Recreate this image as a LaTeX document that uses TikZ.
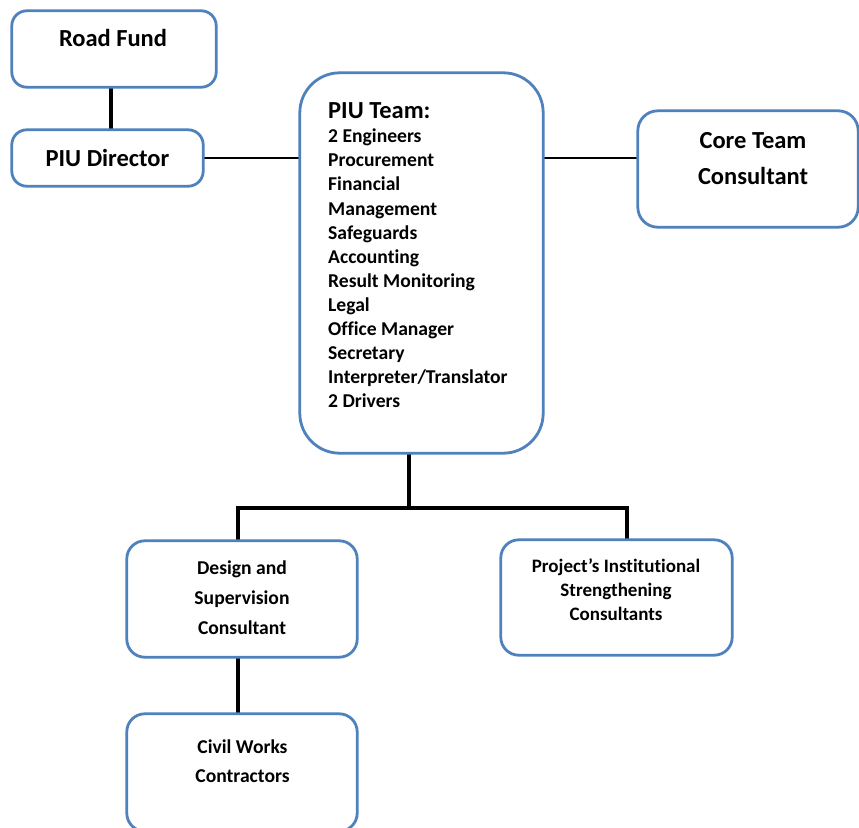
\documentclass[tikz,border=0pt]{standalone}
\usepackage{fontspec}
\setmainfont{Carlito}[Ligatures={NoCommon}]
\definecolor{boxblue}{RGB}{79,129,189}
\tikzset{
  box/.style={draw=boxblue, line width=2.8pt, fill=white, inner sep=0pt, rounded corners=15pt},
  conn/.style={line width=2.6pt, black},
  thickconn/.style={line width=3.4pt, black},
  title/.style={font=\bfseries\fontsize{24.5}{30}\selectfont, inner sep=0pt},
  item/.style={font=\bfseries\fontsize{19.6}{24}\selectfont, inner sep=0pt, anchor=base west},
  small/.style={font=\bfseries\fontsize{19.6}{24}\selectfont, inner sep=0pt, align=center},
}
\begin{document}
\begin{tikzpicture}[x=1pt,y=-1pt]
\useasboundingbox (0,0) rectangle (859,827);
\fill[white] (0,0) rectangle (859,827);
% box shapes (centres and sizes)
\path
  (114,49)     coordinate (cRF)
  (107.5,158)  coordinate (cPD)
  (421.5,263)  coordinate (cPT)
  (748,169)    coordinate (cCT)
  (242,599)    coordinate (cDS)
  (616.5,597.5) coordinate (cPS)
  (242,772.5)  coordinate (cCW);
\coordinate (rfx) at (111,0);
\coordinate (bm) at (409,508);
\coordinate (bl) at (238,508);
\coordinate (br) at (627,508);
% placeholders for box outlines
\path (cRF) node[minimum width=204pt, minimum height=76pt, inner sep=0pt] (RF) {};
\path (cPD) node[minimum width=191pt, minimum height=56pt, inner sep=0pt] (PD) {};
\path (cPT) node[minimum width=243pt, minimum height=380pt, inner sep=0pt] (PT) {};
\path (cCT) node[minimum width=220pt, minimum height=116pt, inner sep=0pt] (CT) {};
\path (cDS) node[minimum width=230pt, minimum height=116pt, inner sep=0pt] (DS) {};
\path (cPS) node[minimum width=231pt, minimum height=115pt, inner sep=0pt] (PS) {};
\path (cCW) node[minimum width=230pt, minimum height=117pt, inner sep=0pt] (CW) {};
% connectors
\draw[thickconn] (RF.south -| rfx) -- (PD.north -| rfx);
\draw[conn] (PD.east) -- (PD.east -| PT.west);
\draw[conn] (PT.east |- PD.east) -- (CT.west |- PD.east);
\draw[thickconn] (PT.south -| bm) -- (bm);
\draw[thickconn] (DS.north -| bl) -- (bl) -- (br) -- (PS.north -| br);
\draw[thickconn] (DS.south -| bl) -- (CW.north -| bl);
% boxes
\draw[box] (RF.south west) rectangle (RF.north east);
\draw[box] (PD.south west) rectangle (PD.north east);
\draw[box, rounded corners=40pt] (PT.south west) rectangle (PT.north east);
\draw[box, rounded corners=20pt] (CT.south west) rectangle (CT.north east);
\draw[box, rounded corners=18pt] (DS.south west) rectangle (DS.north east);
\draw[box, rounded corners=18pt] (PS.south west) rectangle (PS.north east);
\draw[box, rounded corners=18pt] (CW.south west) rectangle (CW.north east);
% texts
\node[title, anchor=base] (tRF) at (113,46) {Road Fund};
\node[title, anchor=base] (tPD) at (107.5,166) {PIU Director};
\node[title, anchor=base west] (tPT) at (328,118) {PIU Team:};
\foreach \t [count=\i from 0] in {2 Engineers, Procurement, Financial, Management, Safeguards, Accounting, Result Monitoring, Legal, Office Manager, Secretary, Interpreter/Translator, 2 Drivers}
  \node[item] (li\i) at (328,{142.7+24.1*\i}) {\t};
\node[title, align=center, font=\bfseries\fontsize{24.5}{36}\selectfont] (tCT) at (753,159) {Core Team\\Consultant};
\node[small, font=\bfseries\fontsize{19.6}{30}\selectfont] (tDS) at (242,598) {Design and\\Supervision\\Consultant};
\node[small, font=\bfseries\fontsize{19}{24}\selectfont] (tPS) at (616,589.5) {Project’s Institutional\\Strengthening\\Consultants};
\node[small, font=\bfseries\fontsize{19.6}{29}\selectfont] (tCW) at (242.5,761.5) {Civil Works\\Contractors};
\end{tikzpicture}
\end{document}
